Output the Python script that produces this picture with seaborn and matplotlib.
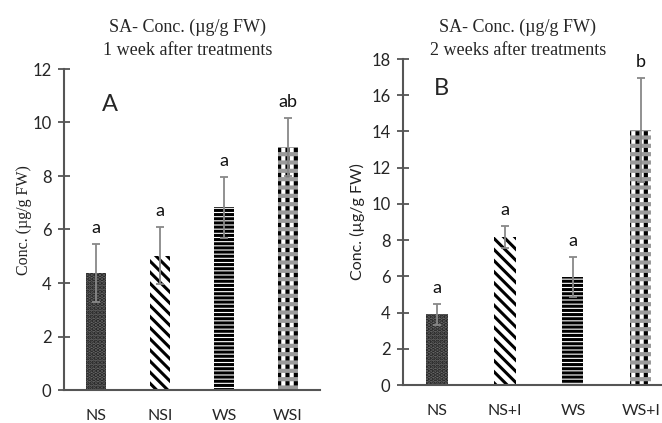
import matplotlib
matplotlib.use("Agg")
import matplotlib.pyplot as plt
import seaborn as sns
import pandas as pd

# ---- data ----
cats_a = ["NS", "NSI", "WS", "WSI"]
vals_a = [4.37, 5.02, 6.83, 9.07]
err_a = [1.08, 1.06, 1.15, 1.08]
letters_a = ["a", "a", "a", "ab"]

cats_b = ["NS", "NS+I", "WS", "WS+I"]
vals_b = [3.90, 8.17, 5.98, 14.07]
err_b = [0.58, 0.60, 1.10, 2.88]
letters_b = ["a", "a", "a", "b"]

titles = ["SA- Conc. (\u00b5g/g FW)\n1 week after treatments",
          "SA- Conc. (\u00b5g/g FW)\n2 weeks after treatments"]
ylabel = "Conc. (\u00b5g/g FW)"
panel_tags = ["A", "B"]

sns.set_theme(style="white")
plt.rcParams["hatch.linewidth"] = 2.2
plt.rcParams["font.family"] = ["Lato", "DejaVu Sans"]

fig = plt.figure(figsize=(6.62, 4.23), dpi=100)
ax_a = fig.add_axes([64/662, 33/423, 256/662, 321/423])
ax_b = fig.add_axes([403/662, 38/423, 259/662, 326/423])

bs = "\\"
hatches = ["....", bs * 3, "----", "||"]
faces = ["#666666", "white", "white", "white"]
hedges = ["#222222", "black", "black", "black"]

def panel(ax, cats, vals, errs, letters, ymax, title, tx, tpad, tag, tagpos, xr,
          ylab_font, ylab_xy):
    df = pd.DataFrame({"cat": cats, "val": vals})
    sns.barplot(data=df, x="cat", y="val", ax=ax, width=0.31, errorbar=None,
                color="white", linewidth=0)
    base = list(ax.patches)
    for i, p in enumerate(base):
        p.set_facecolor(faces[i])
        p.set_edgecolor(hedges[i])
        p.set_hatch(hatches[i])
        p.set_linewidth(0)
        if i == 3:
            try:
                p.set_hatch_linewidth(3.0)
            except Exception:
                pass
    # overlay: grey dotted bands on the last bar
    sns.barplot(data=df, x="cat", y="val", ax=ax, width=0.31, errorbar=None,
                color="white", linewidth=0)
    over = [p for p in ax.patches if p not in base]
    for i, p in enumerate(over):
        p.set_facecolor("none")
        if i == 3:
            p.set_edgecolor("#9a9a9a")
            p.set_hatch("--")
            try:
                p.set_hatch_linewidth(3.0)
            except Exception:
                pass
        else:
            p.set_visible(False)
        p.set_linewidth(0)
    ax.errorbar(range(len(cats)), vals, yerr=errs, fmt="none", ecolor="#888888",
                elinewidth=1.3, capsize=3, capthick=1.3, zorder=5)
    for i, (v, e, l) in enumerate(zip(vals, errs, letters)):
        ax.text(i, v + e + ymax * 0.025, l, ha="center", va="bottom", fontsize=13,
                color="#111111")
    ax.set_xlim(-0.5, xr)
    ax.set_ylim(0, ymax)
    ax.set_yticks(range(0, ymax + 1, 2))
    ax.set_xlabel("")
    ax.set_ylabel(ylabel, fontsize=11.5, family=ylab_font, color="#222222")
    ax.yaxis.set_label_coords(*ylab_xy)
    ax.tick_params(axis="y", direction="inout", length=8, width=1.3, color="#555555",
                   labelsize=12, left=True, pad=5)
    ax.tick_params(axis="x", length=0, labelsize=11.5, pad=14)
    for s in ["top", "right"]:
        ax.spines[s].set_visible(False)
    for s in ["left", "bottom"]:
        ax.spines[s].set_color("#555555")
        ax.spines[s].set_linewidth(1.5)
    ax.set_title(title, fontsize=13, family=["Liberation Serif"], linespacing=1.45,
                 pad=tpad, x=tx)
    ax.text(tagpos[0], tagpos[1], tag, transform=ax.transAxes, fontsize=17, ha="center",
            va="center")

panel(ax_a, cats_a, vals_a, err_a, letters_a, 12, titles[0], 0.484, 10, panel_tags[0],
      (0.18, 0.89), 3.5, ["Liberation Serif"], (-0.125, 0.53))
panel(ax_b, cats_b, vals_b, err_b, letters_b, 18, titles[1], 0.444, 3, panel_tags[1],
      (0.15, 0.91), 3.31, ["Lato"], (-0.147, 0.5))

fig.savefig("out.png", dpi=100)
